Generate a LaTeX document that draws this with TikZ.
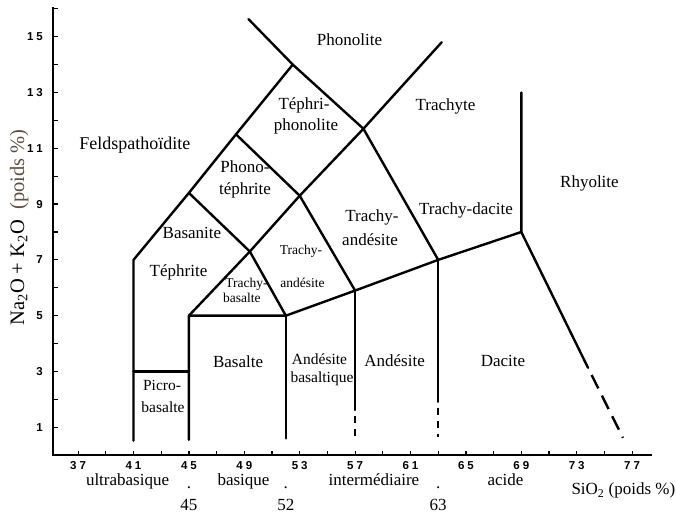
\documentclass[tikz,border=0pt]{standalone}
\usepackage{fontspec}
\setmainfont{Liberation Serif}
\newfontfamily\ticksf{Liberation Sans}
\newcommand{\tk}[2]{#1\kern3pt#2}
\begin{document}
\begin{tikzpicture}[
  x=13.85pt, y=27.9pt,
  bound/.style={line width=2.4pt, line cap=round, line join=round},
  axisline/.style={line width=1.6pt},
  tickmark/.style={line width=1.2pt},
  rock/.style={font=\fontsize{17}{20}\selectfont, inner sep=0pt, text height=1.5ex, text depth=0.25ex},
  rockmd/.style={font=\fontsize{15.5}{18}\selectfont, inner sep=0pt, text height=1.5ex, text depth=0.25ex},
  rocksm/.style={font=\fontsize{13.5}{16}\selectfont, inner sep=0pt, text height=1.5ex, text depth=0.25ex},
  ticklab/.style={font=\ticksf\bfseries\fontsize{11.5}{13}\selectfont, inner sep=0pt},
  axlab/.style={font=\fontsize{17}{20}\selectfont, inner sep=0pt, text height=1.5ex, text depth=0.25ex},
]
\useasboundingbox (31.361,-2.179) rectangle (80.170,16.315);

% axes
\coordinate (o) at (35.17,0);
\coordinate (ytop) at (35.17,16.06);
\coordinate (xend) at (78.42,0);
\draw[axisline] (ytop) -- (o) -- (xend);
\foreach \s in {37,39,...,77} \draw[tickmark] (\s,0) -- (\s,0.15);
\foreach \v in {1,...,16} \draw[tickmark] (35.17,\v) -- (35.53,\v);

% tick labels
\foreach \a/\b [count=\i from 0] in {3/7,4/1,4/5,4/9,5/3,5/7,6/1,6/5,6/9,7/3,7/7}
  \node[ticklab] (xl\i) at ({37+4*\i},-0.37) {\tk{\a}{\b}};
\foreach \v in {1,3,5,7,9}
  \node[ticklab, anchor=east] (yl\v) at (34.47,\v) {\v};
\node[ticklab, anchor=east] (yl11) at (34.47,11) {\tk{1}{1}};
\node[ticklab, anchor=east] (yl13) at (34.47,13) {\tk{1}{3}};
\node[ticklab, anchor=east] (yl15) at (34.47,15) {\tk{1}{5}};

% axis titles
\node[font=\fontsize{20.5}{24}\selectfont, inner sep=0pt, rotate=90] (ytitle) at (32.75,8.16)
  {Na\textsubscript{2}O + K\textsubscript{2}O\ \ \textcolor[HTML]{5E4E40}{(poids \%)}};
\node[axlab, anchor=east] (xtitle) at (80.13,-1.32) {SiO\textsubscript{2} (poids \%)};

% silica classes
\node[axlab] (cl1) at (40.57,-0.97) {ultrabasique};
\node[axlab] (cl2) at (48.94,-0.97) {basique};
\node[axlab] (cl3) at (58.36,-0.97) {intermédiaire};
\node[axlab] (cl4) at (67.86,-0.97) {acide};
\node[font=\fontsize{17}{20}\selectfont, inner sep=0pt, anchor=base] (d1) at (45,-1.19) {.};
\node[font=\fontsize{17}{20}\selectfont, inner sep=0pt, anchor=base] (d2) at (52,-1.19) {.};
\node[font=\fontsize{17}{20}\selectfont, inner sep=0pt, anchor=base] (d3) at (63,-1.19) {.};
\node[axlab] (n45) at (45,-1.89) {45};
\node[axlab] (n52) at (52,-1.89) {52};
\node[axlab] (n63) at (63,-1.89) {63};

% field vertices
\coordinate (a41b) at (41,0.52);
\coordinate (a41t) at (41,7);
\coordinate (v1) at (45,9.4);
\coordinate (v2) at (48.4,11.5);
\coordinate (v3) at (52.5,14);
\coordinate (ptl) at (49.3,15.63);
\coordinate (v4) at (57.6,11.7);
\coordinate (ptr) at (63.25,14.8);
\coordinate (v5) at (63,7);
\coordinate (v6) at (53,9.3);
\coordinate (v7) at (49.4,7.3);
\coordinate (v8) at (45,5);
\coordinate (v9) at (52,5);
\coordinate (v10) at (57,5.9);
\coordinate (v11) at (69,8);
\coordinate (v12) at (69,13);
\coordinate (a41m) at (41,3);
\coordinate (a45m) at (45,3);
\coordinate (a45b) at (45,0.55);
\coordinate (a52b) at (52,0.6);
\coordinate (a57m) at (57,1.62);
\coordinate (a57b) at (57,0.65);
\coordinate (a63m) at (63,1.91);
\coordinate (a63b) at (63,0.65);
\coordinate (rdm) at (73.82,3.13);
\coordinate (rdb) at (76.34,0.62);

% field boundaries
\draw[bound] (a41b) -- (a41t) -- (v1) -- (v2) -- (v3) -- (ptl);
\draw[bound] (v3) -- (v4) -- (v5);
\draw[bound] (v8) -- (v7) -- (v6) -- (v4) -- (ptr);
\draw[bound] (v1) -- (v7) -- (v9);
\draw[bound] (v2) -- (v6) -- (v10);
\draw[bound] (a45b) -- (v8) -- (v9) -- (v10) -- (v5) -- (v11) -- (v12);
\draw[bound] (a52b) -- (v9);
\draw[bound] (a41m) -- (a45m);
\draw[bound] (a57m) -- (v10);
\draw[bound] (a63m) -- (v5);
\draw[bound] (v11) -- (rdm);
\draw[bound, line cap=butt, dash pattern=on 7pt off 6pt, dash phase=7pt] (a57m) -- (a57b);
\draw[bound, line cap=butt, dash pattern=on 7pt off 6pt, dash phase=7pt] (a63m) -- (a63b);
\draw[bound, line cap=butt, dash pattern=on 15pt off 8pt, dash phase=15pt] (rdm) -- (rdb);

% field names
\node[rock] (phon) at (56.60,14.77) {Phonolite};
\node[rock] (tp1) at (53.31,12.48) {Téphri-};
\node[rock] (tp2) at (53.45,11.73) {phonolite};
\node[rock] (trte) at (63.53,12.44) {Trachyte};
\node[rock, font=\fontsize{18}{21}\selectfont] (feld) at (41.1,11.05) {Feldspathoïdite};
\node[rock] (pt1) at (49.05,10.22) {Phono-};
\node[rock] (pt2) at (49.05,9.43) {téphrite};
\node[rock] (rhy) at (73.92,9.68) {Rhyolite};
\node[rock] (ta1) at (58.22,8.47) {Trachy-};
\node[rock] (ta2) at (58.08,7.61) {andésite};
\node[rock] (td) at (65.01,8.72) {Trachy-dacite};
\node[rock] (bas) at (45.22,7.86) {Basanite};
\node[rocksm] (bta1) at (53.1,7.28) {Trachy-};
\node[rocksm] (bta2) at (53.2,6.10) {andésite};
\node[rock] (teph) at (44.25,6.49) {Téphrite};
\node[rocksm] (tb1) at (49.16,6.10) {Trachy-};
\node[rocksm] (tb2) at (48.83,5.56) {basalte};
\node[rock] (blt) at (48.55,3.23) {Basalte};
\node[rockmd] (ab1) at (54.43,3.34) {Andésite};
\node[rockmd] (ab2) at (54.61,2.70) {basaltique};
\node[rock] (and) at (59.85,3.27) {Andésite};
\node[rock] (dac) at (67.68,3.27) {Dacite};
\node[rockmd] (pb1) at (43.06,2.41) {Picro-};
\node[rockmd] (pb2) at (43.13,1.62) {basalte};
\end{tikzpicture}
\end{document}
